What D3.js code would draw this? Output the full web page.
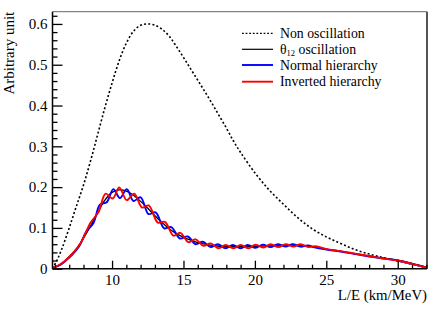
<!DOCTYPE html>
<html><head><meta charset="utf-8">
<script src="https://cdn.jsdelivr.net/npm/d3@7"></script>
<style>
html,body{margin:0;padding:0;background:#fff;}
svg{display:block;}
</style></head>
<body>
<svg id="c" width="436" height="309"></svg>
<script>
// ---- data ----
const xMajorTicks = [10, 15, 20, 25, 30];
const yMajorTicks = [0, 0.1, 0.2, 0.3, 0.4, 0.5, 0.6];
const yTickLabels = ["0", "0.1", "0.2", "0.3", "0.4", "0.5", "0.6"];
const legendLabels = ["Non oscillation", "θ12 oscillation", "Normal hierarchy", "Inverted hierarchy"];

const nonOscX = [5.83,6.15,6.5,7.0,7.5,8.0,8.5,9.0,9.5,10.0,10.5,11.0,11.5,12.0,12.5,13.0,13.5,14.0,14.5,15.0,15.5,16.0,16.5,17.0,17.5,18.0,18.5,19.0,20.0,21.0,22.0,23.0,24.0,25.0,26.0,27.0,28.0,29.0,30.0,31.0,32.0];
const nonOscY = [0.0,0.021,0.05,0.1,0.153,0.205,0.265,0.33,0.395,0.455,0.51,0.553,0.582,0.597,0.6,0.597,0.587,0.57,0.545,0.518,0.49,0.462,0.434,0.405,0.375,0.345,0.313,0.285,0.235,0.193,0.158,0.125,0.098,0.078,0.062,0.047,0.036,0.027,0.019,0.011,0.003];

const theta12X = [5.83,6.0,6.5,7.0,7.5,8.0,8.5,9.0,9.5,10.0,10.5,11.0,11.5,12.0,12.5,13.0,13.5,14.0,14.5,15.0,15.5,16.0,16.5,17.0,17.5,18.0,19.0,20.0,21.0,22.0,23.0,24.0,25.0,26.0,27.0,28.0,29.0,30.0,31.0,32.0];
const theta12Y = [0.002,0.004,0.013,0.03,0.048,0.075,0.105,0.138,0.168,0.187,0.193,0.19,0.18,0.165,0.148,0.13,0.113,0.098,0.086,0.077,0.07,0.064,0.06,0.057,0.055,0.054,0.054,0.055,0.056,0.057,0.057,0.054,0.048,0.043,0.037,0.031,0.026,0.021,0.013,0.004];

const normalX = [5.83,6.3,6.8,7.2,7.7,8.2,8.7,9.15,9.63,10.09,10.55,11.03,11.5,12.0,12.55,13.05,13.65,14.15,14.75,15.3,15.85,16.35,16.9,17.4,17.95,18.45,19.0,19.5,20.05,20.55,21.1,21.6,22.15,22.65,23.2,23.7,24.25,25.0,26.0,27.0,28.0,29.0,30.0,31.0,32.0];
const normalY = [0.002,0.008,0.021,0.034,0.055,0.091,0.112,0.157,0.163,0.195,0.173,0.195,0.166,0.175,0.134,0.138,0.099,0.102,0.074,0.079,0.06,0.066,0.053,0.06,0.05,0.058,0.05,0.058,0.051,0.059,0.053,0.06,0.054,0.06,0.054,0.057,0.0515,0.047,0.042,0.036,0.03,0.025,0.02,0.012,0.003];

const invertedX = [5.83,6.3,6.8,7.3,7.8,8.05,8.5,9.05,9.55,10.05,10.5,11.03,11.55,12.1,12.57,13.2,13.7,14.3,14.78,15.35,15.85,16.4,16.9,17.45,17.95,18.5,19.0,19.55,20.05,20.6,21.1,21.65,22.15,22.7,23.2,23.75,24.25,25.0,26.0,27.0,28.0,29.0,30.0,31.0,32.0];
const invertedY = [0.002,0.009,0.022,0.04,0.063,0.08,0.113,0.139,0.184,0.172,0.199,0.168,0.184,0.15,0.155,0.113,0.115,0.081,0.088,0.065,0.072,0.056,0.062,0.05,0.058,0.05,0.058,0.05,0.059,0.052,0.06,0.053,0.06,0.054,0.06,0.053,0.055,0.048,0.043,0.037,0.031,0.025,0.02,0.012,0.003];

// ---- layout ----
const FONT = '"Liberation Serif"';
const L = 52.5, R = 427, T = 11.7, B = 268.7;
const svg = d3.select("#c");
const x = d3.scaleLinear().domain([5.83, 32.05]).range([L, R]);
const y = d3.scaleLinear().domain([0, 0.63]).range([B, T]);

svg.append("clipPath").attr("id","clip").append("rect")
  .attr("x", L).attr("y", T).attr("width", R - L).attr("height", B - T);

// frame top/right
svg.append("line").attr("x1", L).attr("x2", R).attr("y1", T).attr("y2", T)
  .attr("stroke", "#666").attr("stroke-width", 1);
svg.append("line").attr("x1", R).attr("x2", R).attr("y1", T).attr("y2", B)
  .attr("stroke", "#555").attr("stroke-width", 2);

const zip = (xs, ys) => xs.map((v, i) => [v, ys[i]]);
const line = d3.line().x(d => x(d[0])).y(d => y(d[1])).curve(d3.curveCatmullRom.alpha(0.5));
const g = svg.append("g").attr("clip-path", "url(#clip)");

const series = [
  {xs: nonOscX, ys: nonOscY, color: "#000", w: 1.6, dash: "2,2.2"},
  {xs: theta12X, ys: theta12Y, color: "#000", w: 1.3, dash: null},
  {xs: normalX, ys: normalY, color: "#0000ff", w: 1.9, dash: null},
  {xs: invertedX, ys: invertedY, color: "#ff0000", w: 1.9, dash: null}
];
series.forEach(s => {
  g.append("path").datum(zip(s.xs, s.ys)).attr("d", line)
    .attr("fill", "none").attr("stroke", s.color).attr("stroke-width", s.w)
    .attr("stroke-dasharray", s.dash);
});

// axes
const xMinor = d3.range(6, 33, 1).filter(v => v <= 32 && xMajorTicks.indexOf(v) < 0);
const yMinor = d3.range(0, 0.631, 0.02).map(v => +v.toFixed(2)).filter(v => Math.abs(v*10 - Math.round(v*10)) > 1e-6);

const xAxis = svg.append("g").attr("transform", `translate(0,${B})`)
  .call(d3.axisBottom(x).tickValues(xMajorTicks).tickSize(-8).tickPadding(5.8).tickFormat(d3.format("d")));
svg.append("g").attr("transform", `translate(0,${B})`)
  .call(d3.axisBottom(x).tickValues(xMinor).tickSize(-4).tickFormat(""))
  .call(a => a.select(".domain").remove());
const yAxis = svg.append("g").attr("transform", `translate(${L},0)`)
  .call(d3.axisLeft(y).tickValues(yMajorTicks).tickSize(-10).tickPadding(5)
    .tickFormat((d, i) => yTickLabels[i]));
svg.append("g").attr("transform", `translate(${L},0)`)
  .call(d3.axisLeft(y).tickValues(yMinor).tickSize(-5).tickFormat(""))
  .call(a => a.select(".domain").remove());

svg.selectAll(".domain").attr("stroke", "#000").attr("stroke-width", 1.5);
svg.selectAll(".tick line").attr("stroke", "#000").attr("stroke-width", 1.3);
svg.selectAll(".tick text").attr("font-size", 15).style("font-family", FONT).attr("fill", "#000");
xAxis.select(".domain").attr("d", `M${L},0H${R}`);
yAxis.select(".domain").attr("d", `M0,${B}V${T}`);

// axis titles
svg.append("text").attr("x", R).attr("y", 300).attr("text-anchor", "end")
  .attr("font-size", 14.8).style("font-family", FONT).text("L/E (km/MeV)");
svg.append("text").attr("transform", `translate(14,${T}) rotate(-90)`)
  .attr("text-anchor", "end").attr("font-size", 15).style("font-family", FONT).text("Arbitrary unit");

// legend
const lg = svg.append("g");
const rowsY = [33.3, 49.3, 65, 81.7];
series.forEach((s, i) => {
  lg.append("line").attr("x1", 242).attr("x2", 273).attr("y1", rowsY[i]).attr("y2", rowsY[i])
    .attr("stroke", s.color).attr("stroke-width", i < 2 ? 1.2 : 1.9)
    .attr("stroke-dasharray", s.dash ? "1.8,1.8" : null);
  const t = lg.append("text").attr("x", 280).attr("y", rowsY[i] + 4.6).attr("font-size", 13.8)
    .style("font-family", FONT);
  if (i === 1) {
    t.append("tspan").text("θ");
    t.append("tspan").attr("font-size", 8.5).attr("dy", 2.5).text("12");
    t.append("tspan").attr("dy", -2.5).text(" oscillation");
  } else {
    t.text(legendLabels[i]);
  }
});
</script>
</body></html>
